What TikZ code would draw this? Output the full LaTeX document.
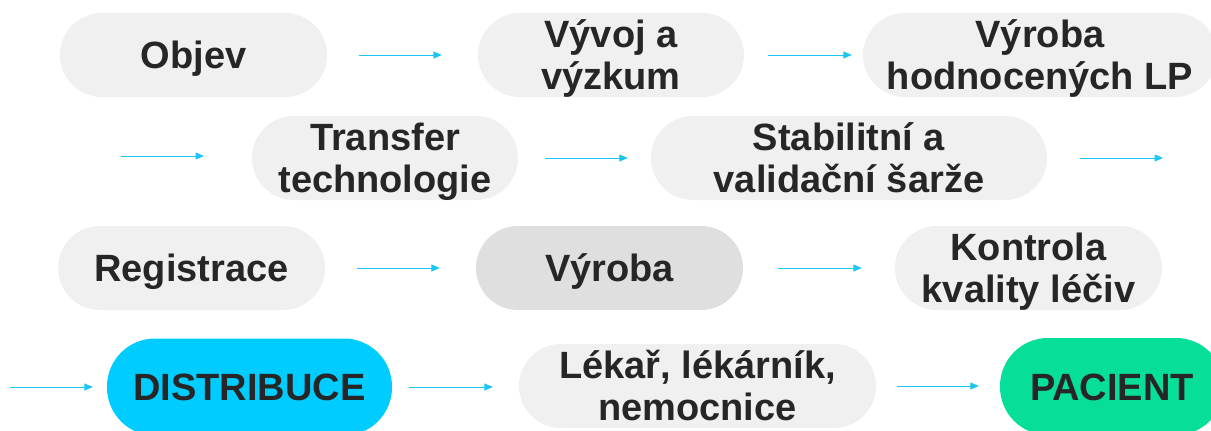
\documentclass[tikz,border=0pt]{standalone}
\usepackage{fontspec}
\setmainfont{Liberation Sans}
\usetikzlibrary{arrows.meta}
\definecolor{boxgray}{HTML}{F0F0F0}
\definecolor{boxdark}{HTML}{DFDFDF}
\definecolor{cyanbox}{HTML}{00CCFF}
\definecolor{greenbox}{HTML}{06DE9A}
\definecolor{txtc}{HTML}{262626}
\definecolor{arrowc}{HTML}{19C6F5}
\begin{document}
\begin{tikzpicture}[x=1pt,y=-1pt,
  pill/.style={fill=boxgray, rounded corners=42pt, minimum height=84pt, inner sep=0pt,
    align=center, font=\fontsize{38}{42}\selectfont\bfseries, text=txtc},
  bigpill/.style={pill, rounded corners=48pt, minimum height=97pt},
  oneline/.style={text height=27.2pt, text depth=0pt},
  twoline/.style={text height=69.2pt, text depth=0pt},
  flow/.style={draw=arrowc, line width=1pt, -{Triangle[length=8.5pt,width=7pt]}}]
\clip (0,0) rectangle (1211,431);
\fill[white] (0,0) rectangle (1211,431);
% row 1
\node[pill, oneline, minimum width=267pt] (objev) at (193.5,55) {Objev};
\node[pill, twoline, minimum width=266pt] (vyvoj) at (611,55) {Vývoj a\\výzkum};
\node[pill, twoline, minimum width=354pt] (vyrlp) at (1040,55) {Výroba\\hodnocených LP};
% row 2
\node[pill, twoline, minimum width=266pt] (transfer) at (385,158) {Transfer\\technologie};
\node[pill, twoline, minimum width=396pt] (stabil) at (849,158) {Stabilitní a\\validační šarže};
% row 3
\node[pill, oneline, minimum width=267pt] (regist) at (191.5,268) {Registrace};
\node[pill, oneline, fill=boxdark, minimum width=267pt] (vyroba) at (609.5,268) {Výroba};
\node[pill, twoline, minimum width=267pt] (kontrola) at (1028.5,268) {Kontrola\\kvality léčiv};
% row 4
\node[bigpill, oneline, fill=cyanbox, minimum width=285pt] (distr) at (249.5,387) {DISTRIBUCE};
\node[pill, twoline, minimum width=357pt] (lekar) at (697.5,386) {Lékař, lékárník,\\nemocnice};
\node[bigpill, oneline, fill=greenbox, minimum width=224pt] (pacient) at (1112,386.5) {PACIENT};
% free ends
\coordinate (in2) at (121,156);
\coordinate (out2) at (1163,158);
\coordinate (in4) at (10,387);
% arrows
\draw[flow, shorten <=32pt, shorten >=36pt] (objev.east) -- (objev.east -| vyvoj.west);
\draw[flow, shorten <=24pt, shorten >=11pt] (vyvoj.east) -- (vyvoj.east -| vyrlp.west);
\draw[flow] (in2) -- ++(83,0);
\draw[flow, shorten <=27pt, shorten >=23pt] (transfer.east) -- (transfer.east -| stabil.west);
\draw[flow, shorten <=33pt] (stabil.east) -- (out2);
\draw[flow, shorten <=32pt, shorten >=36pt] (regist.east) -- (regist.east -| vyroba.west);
\draw[flow, shorten <=35pt, shorten >=33pt] (vyroba.east) -- (vyroba.east -| kontrola.west);
\draw[flow, shorten >=14pt] (in4) -- (in4 -| distr.west);
\draw[flow, shorten <=17pt, shorten >=26pt] (distr.east) -- (distr.east -| lekar.west);
\draw[flow, shorten <=21pt, shorten >=21pt] (lekar.east) -- (lekar.east -| pacient.west);
\end{tikzpicture}
\end{document}
